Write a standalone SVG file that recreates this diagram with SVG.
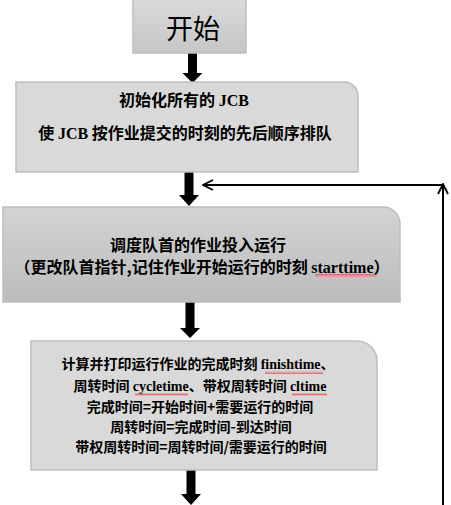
<svg xmlns="http://www.w3.org/2000/svg" width="451" height="505" viewBox="0 0 451 505">
<defs>
<linearGradient id="gStart" x1="0" y1="0" x2="0" y2="1"><stop offset="0" stop-color="#dadada"/><stop offset="1" stop-color="#c6c6c6"/></linearGradient>
<linearGradient id="gBox3" x1="0" y1="0" x2="0" y2="1"><stop offset="0" stop-color="#d3d3d3"/><stop offset="1" stop-color="#bcbcbc"/></linearGradient>
<marker id="open" viewBox="0 0 12 12" refX="11" refY="6" markerWidth="12" markerHeight="12" markerUnits="userSpaceOnUse" orient="auto"><path d="M1,1 L11,6 L1,11" fill="none" stroke="#000" stroke-width="1.8"/></marker>
<pattern id="wave" width="4" height="3" patternUnits="userSpaceOnUse"><path d="M0,2.5 L1,0.5 L2,2.5 L3,0.5 L4,2.5" fill="none" stroke="#e03030" stroke-width="0.6"/></pattern>
</defs>
<style>
.box{stroke:#bdbdbd;stroke-width:1.5}
.cn{font-family:"Noto Sans CJK SC","Liberation Sans",sans-serif;font-weight:bold;fill:#000;text-anchor:middle}
.lt{font-family:"Liberation Serif","Noto Sans CJK SC",serif;font-weight:bold}
.blk{fill:#000}
.sq{fill:url(#wave)}
</style>
<g id="connectors">
<path class="blk" d="M188,53 H197 V73 H202.5 L192.5,83 L182.5,73 H188 Z"/>
<path class="blk" d="M184.5,172 H193.5 V195 H199 L189,206 L179,195 H184.5 Z"/>
<path class="blk" d="M185.5,302 H194.5 V328 H200 L190,338 L180,328 H185.5 Z"/>
<path class="blk" d="M186.5,470 H195.5 V494 H201 L191,505 L181,494 H186.5 Z"/>
<line x1="443" y1="505" x2="443" y2="184" stroke="#000" stroke-width="2" marker-end="url(#open)"/>
<line x1="443" y1="185" x2="203" y2="185" stroke="#000" stroke-width="2" marker-end="url(#open)"/>
</g>
<g id="start">
<rect x="133" y="-1" width="113" height="54" fill="url(#gStart)" class="box"/>
<text x="193" y="39" font-family="'Noto Sans CJK SC',sans-serif" font-size="27" text-anchor="middle">开始</text>
</g>
<g id="init">
<path class="box" fill="#d9d9d9" d="M16,82 H344 A14,14 0 0 1 358,96 V172 H16 Z"/>
<text class="cn" x="184" y="106" font-size="16">初始化所有的 <tspan class="lt">JCB</tspan></text>
<text class="cn" x="185" y="139" font-size="16">使 <tspan class="lt">JCB</tspan> 按作业提交的时刻的先后顺序排队</text>
</g>
<g id="dispatch">
<path class="box" fill="url(#gBox3)" d="M3,207 H383 A17,17 0 0 1 400,224 V302 H3 Z"/>
<text class="cn" x="198" y="251" font-size="16">调度队首的作业投入运行</text>
<text class="cn" x="202" y="273" font-size="16">（更改队首指针,记住作业开始运行的时刻 <tspan class="lt">starttime</tspan>）</text>
<rect class="sq" x="315" y="274" width="62" height="3"/>
</g>
<g id="compute">
<path class="box" fill="#d9d9d9" d="M31,341 H357 A20,20 0 0 1 377,361 V470 H31 Z"/>
<text class="cn" x="198" y="369" font-size="14">计算并打印运行作业的完成时刻 <tspan class="lt">finishtime</tspan>、</text>
<text class="cn" x="200" y="391" font-size="14">周转时间 <tspan class="lt">cycletime</tspan>、带权周转时间 <tspan class="lt">cltime</tspan></text>
<text class="cn" x="200" y="412" font-size="14">完成时间=开始时间+需要运行的时间</text>
<text class="cn" x="201" y="432" font-size="14">周转时间=完成时间-到达时间</text>
<text class="cn" x="201" y="452" font-size="14">带权周转时间=周转时间/需要运行的时间</text>
<rect class="sq" x="265" y="371" width="58" height="3"/>
<rect class="sq" x="135" y="393" width="53" height="3"/>
<rect class="sq" x="292" y="393" width="35" height="3"/>
</g>
</svg>
